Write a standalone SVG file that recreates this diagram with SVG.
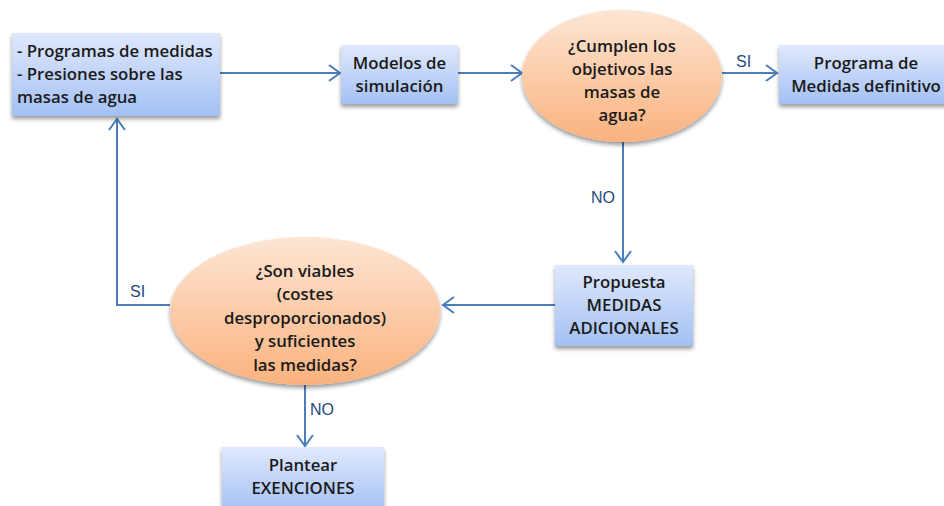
<svg xmlns="http://www.w3.org/2000/svg" width="944" height="506" viewBox="0 0 944 506">
<defs>
<linearGradient id="gBox" x1="0" y1="0" x2="0" y2="1"><stop offset="0" stop-color="#e0e9fc"/><stop offset="1" stop-color="#a3c0f4"/></linearGradient>
<linearGradient id="gEll" x1="0" y1="0" x2="0" y2="1"><stop offset="0" stop-color="#fde6d4"/><stop offset="1" stop-color="#fab27e"/></linearGradient>
<filter id="sh" x="-20%" y="-20%" width="140%" height="150%"><feGaussianBlur in="SourceAlpha" stdDeviation="2"/><feOffset dx="0" dy="3"/><feComponentTransfer><feFuncA type="linear" slope="0.4"/></feComponentTransfer><feMerge><feMergeNode/><feMergeNode in="SourceGraphic"/></feMerge></filter>
<marker id="ah" markerWidth="14" markerHeight="18" refX="12" refY="9" orient="auto" markerUnits="userSpaceOnUse"><path d="M1,1 L12,9 L1,17" fill="none" stroke="#4a7ebb" stroke-width="2"/></marker>
</defs>
<style>
.box{fill:url(#gBox);filter:url(#sh)}
.ell{fill:url(#gEll);filter:url(#sh)}
.t{font-family:"Open Sans","Noto Sans",sans-serif;font-weight:600;font-size:16.8px;fill:#1a1a1a;text-anchor:middle}
.tl{text-anchor:start}
.c{fill:none;stroke:#4a7ebb;stroke-width:2}
.lb{font-family:"Liberation Sans",Arial,sans-serif;font-size:16px;fill:#1f497d}
</style>
<rect width="944" height="506" fill="#ffffff"/>
<g id="connectors">
<path class="c" d="M220,73 L340,73" marker-end="url(#ah)"/>
<path class="c" d="M458,73 L522,73" marker-end="url(#ah)"/>
<path class="c" d="M722,73 L777,73" marker-end="url(#ah)"/>
<path class="c" d="M623,142 L623,262" marker-end="url(#ah)"/>
<path class="c" d="M555,305 L443,305" marker-end="url(#ah)"/>
<path class="c" d="M170,305 L117,305 L117,119" marker-end="url(#ah)"/>
<path class="c" d="M305,385 L305,446" marker-end="url(#ah)"/>
<text class="lb" x="736" y="67">SI</text>
<text class="lb" x="591" y="203">NO</text>
<text class="lb" x="130" y="297">SI</text>
<text class="lb" x="310" y="415">NO</text>
</g>
<g id="n1"><rect class="box" x="12" y="33" width="208" height="83"/>
<text class="t tl" x="17" y="57">- Programas de medidas</text>
<text class="t tl" x="17" y="80">- Presiones sobre las</text>
<text class="t tl" x="17" y="103">masas de agua</text></g>
<g id="n2"><rect class="box" x="341" y="45" width="117" height="59"/>
<text class="t" x="399.5" y="69">Modelos de</text>
<text class="t" x="399.5" y="92">simulación</text></g>
<g id="n3"><ellipse class="ell" cx="622" cy="76" rx="100" ry="66"/>
<text class="t" x="622" y="52">¿Cumplen los</text>
<text class="t" x="622" y="75">objetivos las</text>
<text class="t" x="622" y="98">masas de</text>
<text class="t" x="622" y="121">agua?</text></g>
<g id="n4"><rect class="box" x="779" y="45" width="175" height="59"/>
<text class="t" x="866" y="69">Programa de</text>
<text class="t" x="866" y="92">Medidas definitivo</text></g>
<g id="n5"><rect class="box" x="555" y="265" width="138" height="81"/>
<text class="t" x="624" y="288">Propuesta</text>
<text class="t" x="624" y="311">MEDIDAS</text>
<text class="t" x="624" y="334">ADICIONALES</text></g>
<g id="n6"><ellipse class="ell" cx="305" cy="311" rx="135" ry="74"/>
<text class="t" x="305" y="277">¿Son viables</text>
<text class="t" x="305" y="300">(costes</text>
<text class="t" x="305" y="324">desproporcionados)</text>
<text class="t" x="305" y="347">y suficientes</text>
<text class="t" x="305" y="371">las medidas?</text></g>
<g id="n7"><rect class="box" x="222" y="447" width="162" height="65"/>
<text class="t" x="303" y="471">Plantear</text>
<text class="t" x="303" y="494">EXENCIONES</text></g>
</svg>
